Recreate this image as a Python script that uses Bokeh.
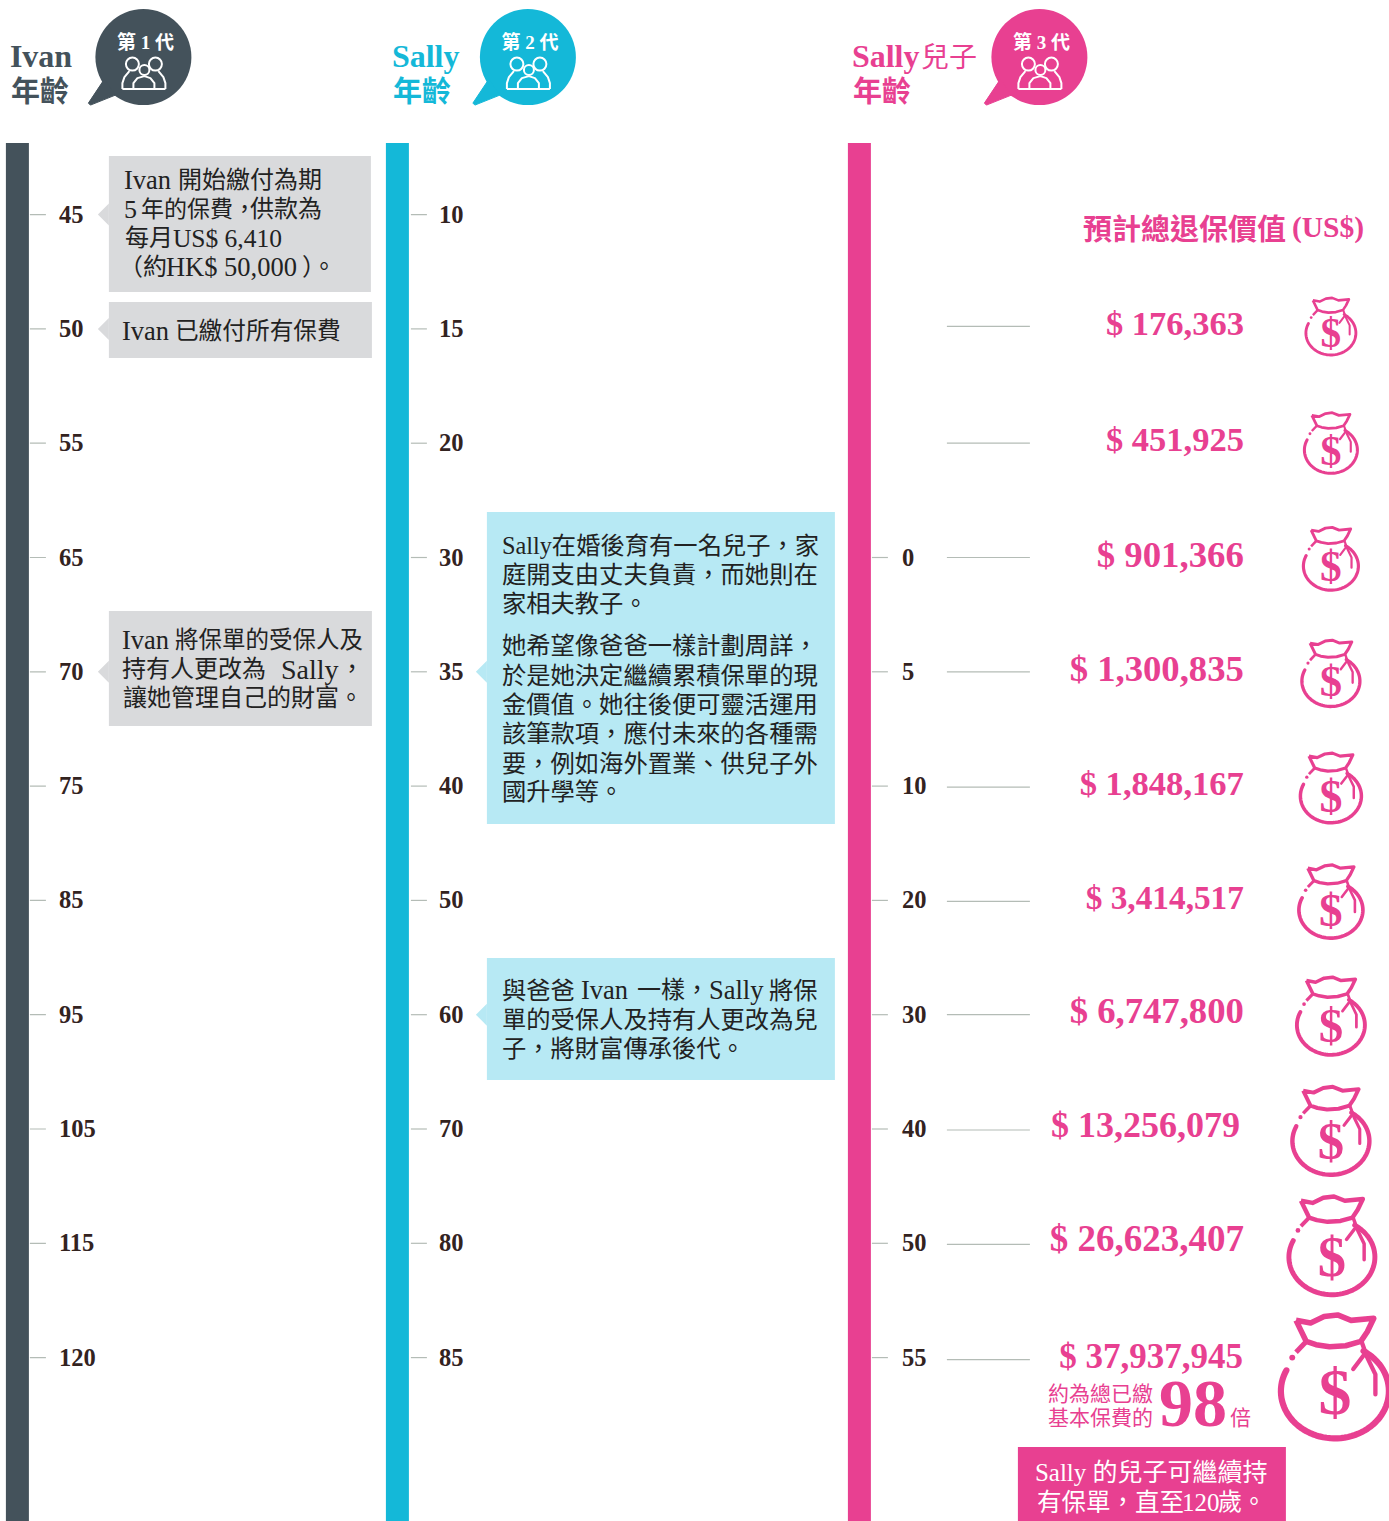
import numpy as np
from bokeh.plotting import figure
from bokeh.models import Range1d
from bokeh.core.properties import value
from bokeh.embed import file_html
from bokeh.resources import INLINE

# ---------- data ----------
ivan_ages = [45, 50, 55, 65, 70, 75, 85, 95, 105, 115, 120]
sally_ages = [10, 15, 20, 30, 35, 40, 50, 60, 70, 80, 85]
son_ages = [None, None, 0, 5, 10, 20, 30, 40, 50, 55]
son_rows = [1, 2, 3, 4, 5, 6, 7, 8, 9, 10]
surrender_values = [176363, 451925, 901366, 1300835, 1848167, 3414517, 6747800, 13256079, 26623407, 37937945]
generations = ["第 1 代", "第 2 代", "第 3 代"]

# each note line: (y, [(x, text, size), ...])
notes = [
    (180, [(124, "Ivan", 26.5), (178, "開始繳付為期", 24)]),
    (209, [(124, "5", 26), (141, "年的保費，", 23), (250, "供款為", 24)]),
    (238, [(125, "每月", 24), (173, "US$ 6,410", 25.5)]),
    (267, [(119, "（約", 24), (166, "HK$ 50,000", 26.5), (302, "）", 24), (312, "。", 24)]),
    (331, [(122, "Ivan", 26.5), (175, "已繳付所有保費", 23.7)]),
    (640, [(122, "Ivan", 26.5), (175, "將保單的受保人及", 23.5)]),
    (669, [(122, "持有人更改為", 24), (281, "Sally", 28), (340, "，", 24)]),
    (698, [(123, "讓她管理自己的財富。", 24)]),
    (545, [(502, "Sally在婚後育有一名兒子，家", 24.3)]),
    (574, [(502, "庭開支由丈夫負責，而她則在", 24.3)]),
    (603, [(502, "家相夫教子。", 24.3)]),
    (645, [(502, "她希望像爸爸一樣計劃周詳，", 24.3)]),
    (675, [(502, "於是她決定繼續累積保單的現", 24.3)]),
    (704, [(502, "金價值。她往後便可靈活運用", 24.3)]),
    (733, [(502, "該筆款項，應付未來的各種需", 24.3)]),
    (763, [(502, "要，例如海外置業、供兒子外", 24.3)]),
    (791, [(502, "國升學等。", 24.3)]),
    (990, [(502, "與爸爸", 24.3), (581, "Ivan", 26.5), (637, "一樣，", 24), (709, "Sally", 26.5), (769, "將保", 24.3)]),
    (1019, [(502, "單的受保人及持有人更改為兒", 24.3)]),
    (1048, [(502, "子，將財富傳承後代。", 24.3)]),
]

# ---------- layout / style ----------
W, H = 1389, 1521
DARK, CYAN, PINK = "#44525b", "#14b8d8", "#e84091"
GREY_BOX, BLUE_BOX = "#d9dadc", "#b7e9f4"
TICK = "#b4bcb6"
INK = "#33231f"
BODY = "#222222"
MIX = value("Liberation Serif, Noto Sans CJK TC")
SERIF = value("Liberation Serif")
SANS = value("Noto Sans CJK TC")
ROW0, ROWSTEP = 214.5, 114.3


def row_y(i):
    return ROW0 + ROWSTEP * i


p = figure(width=W, height=H, x_range=Range1d(0.6, W + 0.6), y_range=Range1d(H + 0.4, 0.4),
           x_axis_type=None, y_axis_type=None, toolbar_location=None,
           output_backend="svg", min_border=0, outline_line_color=None,
           background_fill_color="white", border_fill_color="white",
           styles={"position": "absolute", "left": "0px", "top": "0px"})
p.grid.visible = False


def txt(x, y, s, size, color, font=MIX, style="normal", align="left", baseline="middle"):
    p.text([x], [y - 1], text=[s], text_font=font, text_font_size=f"{size}px", text_color=color,
           text_font_style=style, text_align=align, text_baseline=baseline)


# column bars
for x0, c in [(6, DARK), (386, CYAN), (848, PINK)]:
    p.quad(left=[x0], right=[x0 + 23], top=[143], bottom=[H + 1], fill_color=c, line_color=None)


# callout boxes
def callout(x0, x1, y0, y1, ptr, color):
    p.quad(left=[x0], right=[x1], top=[y0], bottom=[y1], fill_color=color, line_color=None)
    p.patch([x0, x0 - 11, x0], [ptr - 11, ptr, ptr + 11], fill_color=color, line_color=None)


callout(109, 371, 156, 292, row_y(0), GREY_BOX)
callout(109, 372, 302, 358, row_y(1), GREY_BOX)
callout(109, 372, 611, 726, row_y(4), GREY_BOX)
callout(487, 835, 512, 824, row_y(4), BLUE_BOX)
callout(487, 835, 958, 1080, row_y(7), BLUE_BOX)

for y, parts in notes:
    for x, s, size in parts:
        txt(x, y + 1, s, size, BODY)

# ticks and age labels
AGE_SIZE = 24.5
for i, (a, b) in enumerate(zip(ivan_ages, sally_ages)):
    y = row_y(i)
    p.segment([30, 411], [y, y], [46, 427], [y, y], line_color=TICK, line_width=1.2)
    txt(59, y + 0.5, str(a), AGE_SIZE, INK, SERIF, "bold")
    txt(439, y + 0.5, str(b), AGE_SIZE, INK, SERIF, "bold")
line_dy = [-2.5, 0, 0, 0, 1, 1, 0, 1, 1, 2]
for r, a, d in zip(son_rows, son_ages, line_dy):
    y = row_y(r)
    if a is not None:
        p.segment([872], [y], [888], [y], line_color=TICK, line_width=1.2)
        txt(902, y + 0.5, str(a), AGE_SIZE, INK, SERIF, "bold")
    p.segment([947], [y + d], [1030], [y + d], line_color=TICK, line_width=1.2)

# values
txt(1083, 228, "預計總退保價值", 29, PINK, SANS, "bold")
txt(1292, 228, "(US$)", 29.5, PINK, SERIF, "bold")
right_edge = [1244, 1244, 1244, 1244, 1244, 1244, 1244, 1240, 1244, 1243]
val_dy = [-5, -3, -2, -2, -2, -2, -3, -3, -4, 0]
val_size = [34.5, 34.5, 36.8, 36.7, 34.6, 33.3, 36.7, 36, 37, 35]
for r, v, xr, dy, sz in zip(son_rows, surrender_values, right_edge, val_dy, val_size):
    txt(xr, row_y(r) + dy, f"$ {v:,}", sz, PINK, SERIF, "bold", align="right")


# money bags
def bag(cx, cy, r):
    lw = max(2.8, r * 0.115)
    th = np.radians(np.linspace(206, -58, 70))
    p.line(cx + r * np.cos(th), cy + 0.875 * r * np.sin(th), line_color=PINK, line_width=lw, line_cap="round")
    neck_u = [-.72, -.45, -.2, .05, .3, .72, .6, .48, .2, -.1, -.35, -.53, -.72]
    neck_v = [-1.31, -1.26, -1.38, -1.41, -1.31, -1.35, -1.1, -.92, -.84, -.82, -.86, -.92, -1.31]
    p.line(cx + r * np.array(neck_u), cy + r * np.array(neck_v), line_color=PINK, line_width=lw * 0.9,
           line_join="round")
    p.line(cx + r * np.array([-.72, -.53]), cy + r * np.array([-.72, -.92]), line_color=PINK,
           line_width=lw * 0.8)
    p.line(cx + r * np.array([.5, .6, .75, .75]), cy + r * np.array([-.9, -.62, -.31, .06]),
           line_color=PINK, line_width=lw * 0.7, line_cap="round")
    p.line(cx + r * np.array([.34, .53]), cy + r * np.array([-.41, -.66]), line_color=PINK,
           line_width=lw * 0.7, line_cap="round")
    p.circle([cx - .79 * r], [cy - .62 * r], radius=r * .055, fill_color=PINK, line_color=None)
    txt(cx, cy + 1, "$", 20 + r * .85, PINK, SERIF, "bold", align="center")


bag_x = [1331, 1331, 1331, 1331, 1331, 1331, 1331, 1331, 1332, 1335]
bag_y = [333, 450, 566, 681, 796, 910, 1025, 1141, 1257, 1391]
bag_r = [25, 26.5, 27.5, 29, 30.5, 32, 34, 38.5, 43, 54]
for cx, cy, r in zip(bag_x, bag_y, bag_r):
    bag(cx, cy, r)

# multiple text
txt(1048, 1393, "約為總已繳", 21, PINK, SANS)
txt(1048, 1417, "基本保費的", 21, PINK, SANS)
txt(1159, 1405, "98", 68, PINK, SERIF, "bold")
txt(1230, 1417, "倍", 21, PINK, SANS)

# pink note
p.quad(left=[1018], right=[1286], top=[1447], bottom=[H + 1], fill_color=PINK, line_color=None)
txt(1035, 1473, "Sally 的兒子可繼續持", 25, "white")
txt(1037, 1503, "有保單，直至", 24.5, "white")
txt(1182, 1503, "120", 25, "white", SERIF)
txt(1218, 1503, "歲。", 24, "white")


# speech bubbles
def bubble(cx, cy, color, label):
    p.circle([cx], [cy], radius=48, fill_color=color, line_color=None)
    p.patch([cx - 39, cx - 55, cx - 53, cx - 28], [cy + 22, cy + 46, cy + 48, cy + 38],
            fill_color=color, line_color=color, line_width=1)
    txt(cx + 2, cy - 14, label, 19, "white", MIX, "bold", align="center")
    for hx, hy, hr in [(-11, 7, 6.5), (12, 7, 6.5)]:
        p.circle([cx + hx], [cy + hy], radius=hr, fill_color=color, line_color="white", line_width=2)
    p.line([cx - 21, cx - 21, cx - 19, cx - 14], [cy + 32, cy + 26, cy + 20, cy + 14], line_color="white", line_width=2)
    p.line([cx + 22, cx + 22, cx + 20, cx + 15], [cy + 32, cy + 26, cy + 20, cy + 14], line_color="white", line_width=2)
    p.line([cx - 10, cx - 10, cx - 6, cx + 1, cx + 7, cx + 11, cx + 11],
           [cy + 32, cy + 26, cy + 21, cy + 19, cy + 21, cy + 26, cy + 32], line_color="white", line_width=2)
    p.circle([cx + 1], [cy + 13], radius=5, fill_color=color, line_color="white", line_width=2)
    p.line([cx - 21, cx + 22], [cy + 32, cy + 32], line_color="white", line_width=2)


bubble(143.5, 57, DARK, generations[0])
bubble(528, 57, CYAN, generations[1])
bubble(1039.5, 57, PINK, generations[2])

# headings
txt(10, 57, "Ivan", 32, DARK, SERIF, "bold")
txt(11, 90, "年齡", 29, DARK, SANS, "bold")
txt(392, 57, "Sally", 32, CYAN, SERIF, "bold")
txt(393, 90, "年齡", 29, CYAN, SANS, "bold")
txt(852, 57, "Sally", 32, PINK, SERIF, "bold")
txt(921, 56, "兒子", 28, PINK, SANS)
txt(853, 90, "年齡", 29, PINK, SANS, "bold")

open("out.html", "w").write(file_html(p, INLINE))
